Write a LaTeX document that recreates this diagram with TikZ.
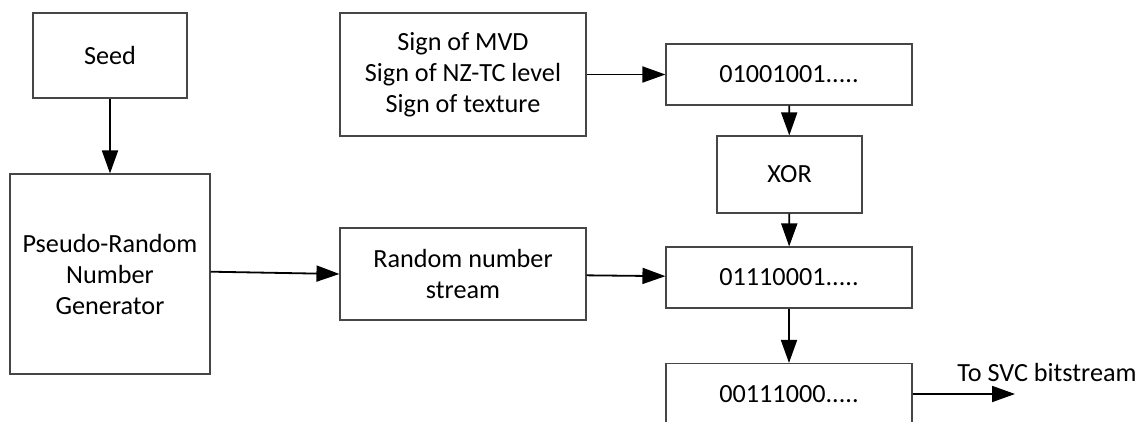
\documentclass[tikz,border=0pt]{standalone}
\usepackage{fontspec}
\setmainfont{Carlito}
\usepackage{tikz}
\usetikzlibrary{arrows.meta}
\definecolor{edge}{RGB}{70, 70, 70}

\begin{document}
\begin{tikzpicture}[
   x=1pt, y=-1pt,
   blockbox/.style={rectangle, draw=edge, line width=1.1, text=black, align=center,
                    inner sep=0, minimum width=246, minimum height=61,
                    font=\fontsize{26.2}{31}\selectfont},
   flow/.style={-{Triangle[length=23pt, width=16pt]}, color=black, line width=1.8}
  ]

  % Frame (bottom box runs off the page)
  \clip (0, 0) rectangle (1138, 422);

  \node (seed) at (110, 55.5) [blockbox, minimum width=154, minimum height=85] {Seed};
  \node (prng) at (110, 274) [blockbox, minimum width=200, minimum height=200]
        {Pseudo-Random\\ Number\\ Generator};

  \node (sign) at (463, 74.5) [blockbox, minimum height=123]
        {Sign of MVD\\ Sign of NZ-TC level\\ Sign of texture};
  \node (rns) at (463, 274) [blockbox, minimum height=92] {Random number\\ stream};

  \node (bitsA) at (789, 74.5) [blockbox] {01001001.....};
  \node (xor) at (789.5, 174.5) [blockbox, minimum width=145, minimum height=77] {XOR};
  \node (bitsB) at (789, 277.5) [blockbox] {01110001.....};
  \node (bitsC) at (789, 394) [blockbox] {00111000.....};

  \coordinate (out) at (1015, 394);
  \node (tolabel) at (1047, 372) [font=\fontsize{26.2}{31}\selectfont] {To SVC bitstream};

  \foreach \B/\E in {seed/prng, sign/bitsA, bitsA/xor, xor/bitsB, rns/bitsB, bitsB/bitsC, bitsC/out} {
    \draw[flow] (\B) -- (\E);
  }
  \draw[flow] ([yshift=2.3pt]prng.east) -- (rns.west);

\end{tikzpicture}
\end{document}
